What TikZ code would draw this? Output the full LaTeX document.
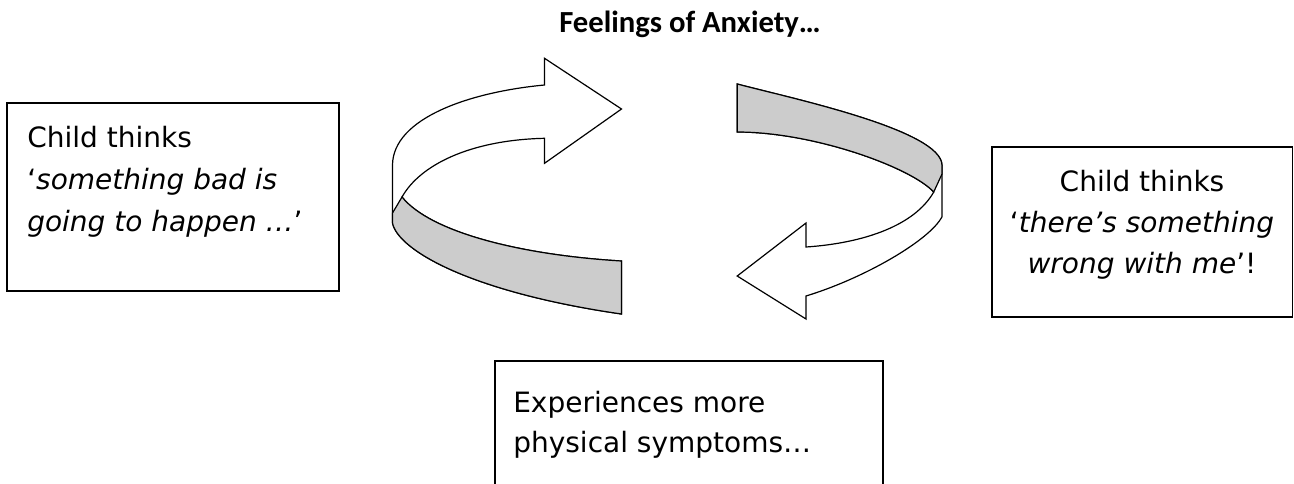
\documentclass[tikz,border=0pt]{standalone}
\usepackage{fontspec}
\setmainfont{DejaVu Sans}
\newfontfamily\titlefont{Carlito}

\begin{document}
\begin{tikzpicture}[x=0.75pt,y=-0.75pt,
  box/.style={draw,line width=1.1pt},
  boxtext/.style={inner sep=0pt,font=\fontsize{21}{31}\selectfont},
  ribbon/.style={draw,line width=0.9pt,line join=miter,fill=white},
  shade/.style={draw,line width=0.9pt,line join=miter,fill=black!20}]
\useasboundingbox (0,0) rectangle (1294,483);

\node[inner sep=0pt,anchor=base,font=\titlefont\bfseries\fontsize{23}{28}\selectfont] (title) at (690,32) {Feelings of Anxiety…};

% left box
\draw[box] (7,103) rectangle (339,291);
\node[boxtext,anchor=base west] (left1) at (27,147) {Child thinks};
\node[boxtext,anchor=base west] (left2) at (27,189) {‘\textit{something bad is}};
\node[boxtext,anchor=base west] (left3) at (27,231) {\textit{going to happen …}’};

% right box
\draw[box] (992,147) rectangle (1292.5,317);
\node[boxtext,anchor=base] (right1) at (1142,191) {Child thinks};
\node[boxtext,anchor=base] (right2) at (1142,232) {‘\textit{there’s something}};
\node[boxtext,anchor=base] (right3) at (1142,273) {\textit{wrong with me}’!};

% bottom box, runs off the page
\draw[box] (495,484) -- (495,361) -- (883,361) -- (883,484);
\node[boxtext,anchor=base west] (bottom1) at (513,412) {Experiences more};
\node[boxtext,anchor=base west] (bottom2) at (513,452) {physical symptoms…};

% circular arrow, left half
\filldraw[ribbon] (544.5,85) .. controls (470,92) and (393,118) .. (392.5,165)
  -- (392.5,223) .. controls (398,250) and (470,292) .. (621.5,314)
  -- (621.5,261) .. controls (520,255) and (430,232) .. (402,197)
  .. controls (420,165) and (470,140) .. (544.5,138.3)
  -- (544.5,163.3) -- (621.5,109) -- (544.5,58.3) -- cycle;
\filldraw[shade] (621.5,261) .. controls (520,255) and (430,232) .. (402,197)
  -- (392.5,213) -- (392.5,223) .. controls (398,250) and (470,292) .. (621.5,314) -- cycle;

% circular arrow, right half
\filldraw[ribbon] (737.2,84) .. controls (790,98) and (942,130) .. (942,165.5)
  -- (942,216.7) .. controls (930,240) and (865,278) .. (806,296)
  -- (806,319) -- (737.2,276) -- (806,223) -- (806,247)
  .. controls (865,243) and (915,225) .. (933.7,192)
  .. controls (912,168) and (815,132) .. (737.2,132) -- cycle;
\filldraw[shade] (737.2,84) .. controls (790,98) and (942,130) .. (942,165.5)
  -- (942,174) -- (933.7,192) .. controls (912,168) and (815,132) .. (737.2,132) -- cycle;

\end{tikzpicture}
\end{document}
